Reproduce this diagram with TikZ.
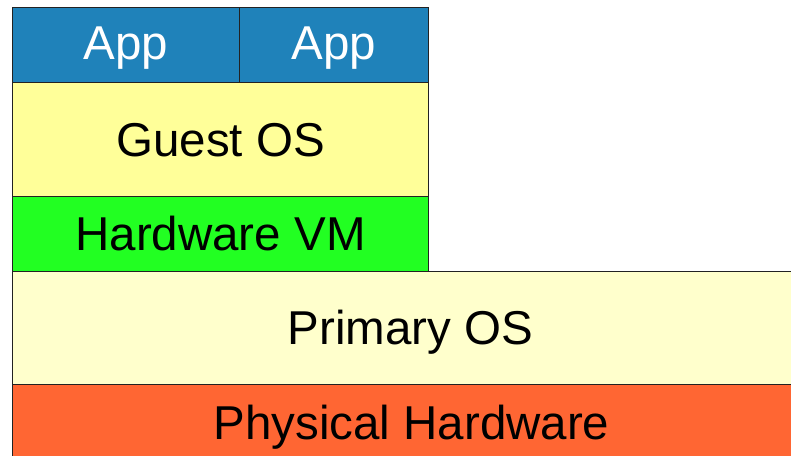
\documentclass[tikz,border=0pt]{standalone}
\usepackage{fontspec}
\setmainfont{Liberation Sans}
\definecolor{appblue}{HTML}{1F82BA}
\definecolor{guestyellow}{HTML}{FFFF99}
\definecolor{vmgreen}{HTML}{22FF22}
\definecolor{primaryyellow}{HTML}{FFFFCC}
\definecolor{hwred}{HTML}{FF6633}
\definecolor{edge}{HTML}{222222}
\begin{document}
\begin{tikzpicture}[x=1pt,y=-1pt,
  layer/.style={draw=edge, line width=1pt, anchor=north west, inner sep=0pt, outer sep=0pt,
    font=\fontsize{47.5}{50}\selectfont, text=black, text height=34.5pt, text depth=0pt},
]
\useasboundingbox (0,0) rectangle (791,455);
\clip (0,0) rectangle (791,455);
\fill[white] (0,0) rectangle (791,455);
\node[layer, fill=hwred, minimum width=800pt, minimum height=74pt, text height=36.5pt] (hw) at (12.5,384) {\hspace*{-1pt}Physical Hardware\hspace*{1pt}};
\node[layer, fill=primaryyellow, minimum width=800pt, minimum height=113pt] (pos) at (12.5,271) {\hspace*{-2pt}Primary OS\hspace*{2pt}};
\node[layer, fill=vmgreen, minimum width=416pt, minimum height=75pt] (vm) at (12.5,196) {Hardware VM};
\node[layer, fill=guestyellow, minimum width=416pt, minimum height=114pt] (gos) at (12.5,82) {Guest OS};
\node[layer, fill=appblue, text=white, minimum width=226.5pt, minimum height=75pt, text height=29.6pt] (app1) at (12.5,7) {App};
\node[layer, fill=appblue, text=white, minimum width=189.5pt, minimum height=75pt, text height=29.6pt] (app2) at (239,7) {App};
\end{tikzpicture}
\end{document}
